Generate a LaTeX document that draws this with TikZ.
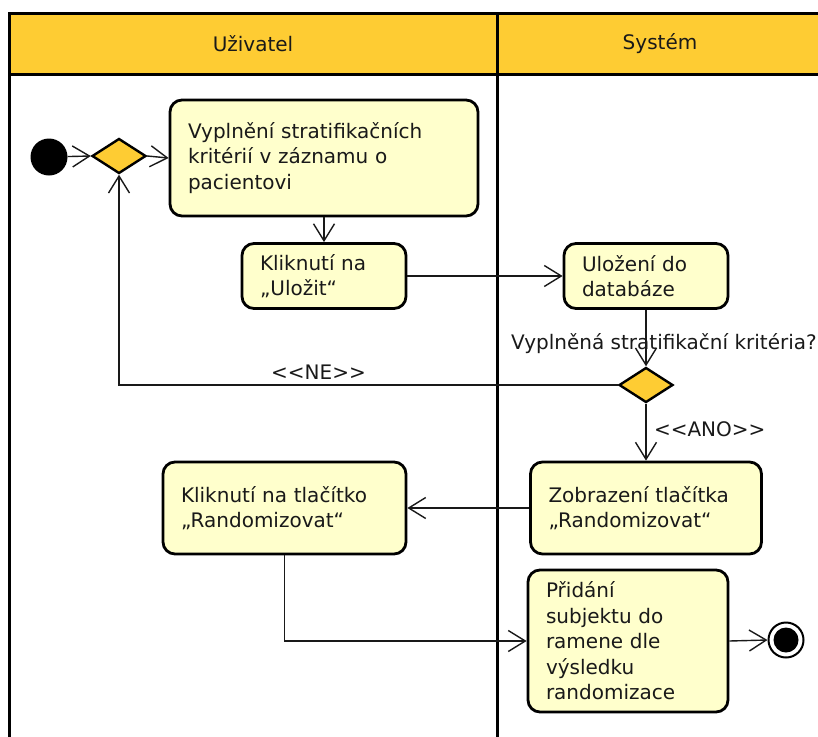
\documentclass[tikz,border=0pt]{standalone}
\usepackage{fontspec}
\setmainfont{DejaVu Sans}
\usetikzlibrary{arrows.meta,shapes.geometric}
\definecolor{lanehead}{RGB}{254,204,51}
\definecolor{actfill}{RGB}{255,255,204}
\definecolor{ink}{RGB}{25,25,25}
\begin{document}
\begin{tikzpicture}[x=1pt,y=-1pt,
  every node/.style={font=\fontsize{20}{25.5}\selectfont, text=ink},
  lane/.style={line width=3pt, draw=black},
  action/.style 2 args={draw=black, line width=2.8pt, rounded corners=12pt,
    fill=actfill, align=left, inner xsep=18pt, inner ysep=0pt,
    text width=#1, minimum height=#2},
  decision/.style={diamond, draw=black, line width=2.4pt, fill=lanehead,
    inner sep=0pt, minimum width=54pt, minimum height=35pt},
  conn/.style={draw=ink, line width=1.4pt,
    -{Straight Barb[length=17pt,width=21pt,line width=1.4pt]}}
]
\useasboundingbox (0,0) rectangle (818,736);
\clip (0,0) rectangle (818,736);

% swimlane frame and headers
\fill[lanehead] (9,13) rectangle (840,74);
\draw[lane] (9,760) -- (9,13) -- (840,13);
\draw[lane] (9,74) -- (840,74);
\draw[lane] (497,13) -- (497,760);
\node (huser) at (253,44) {Uživatel};
\node (hsys) at (660,44) {Systém};

% start, decisions, end
\node[circle, fill=black, inner sep=0pt, minimum size=37pt] (start) at (49,157) {};
\node[decision] (d1) at (119,156) {};
\node[decision] (d2) at (646,385) {};
\node[circle, draw=black, line width=2pt, fill=white, inner sep=0pt, minimum size=35pt] (stop) at (786,640) {};
\node[circle, fill=black, inner sep=0pt, minimum size=25pt] (stopdot) at (stop.center) {};

% actions
\node[action={272pt}{116pt}] (a1) at (324,158)
  {Vyplnění stratifikačních\\kritérií v záznamu o\\pacientovi};
\node[action={128pt}{65pt}] (a2) at (324,276)
  {Kliknutí na\\„Uložit“};
\node[action={128pt}{65pt}] (a3) at (646,276)
  {Uložení do\\databáze};
\node[action={195pt}{92pt}] (a4) at (646,508)
  {Zobrazení tlačítka\\„Randomizovat“};
\node[action={207pt}{92pt}] (a5) at (284.5,508)
  {Kliknutí na tlačítko\\„Randomizovat“};
\node[action={164pt}{142pt}] (a6) at (628,641)
  {Přidání\\subjektu do\\ramene dle\\výsledku\\randomizace};

% guard text
\node[anchor=west, inner sep=0pt] (guard) at (511,344) {Vyplněná stratifikační kritéria?};

% flows
\draw[conn] (start) -- (d1.west);
\draw[conn] (d1.east) -- (a1.west);
\draw[conn] (a1.south) -- (a2.north);
\draw[conn] (a2.east) -- (a3.west);
\draw[conn] (a3.south) -- (d2.north);
\draw[conn] (d2.west) -- node[above=1pt, pos=0.6] (ne) {<{}<NE>{}>} (d2.west -| d1.south) -- (d1.south);
\draw[conn] (d2.south) -- node[right=4pt, pos=0.45] (ano) {<{}<ANO>{}>} (a4.north);
\draw[conn] (a4.west) -- (a5.east);
\draw[conn] (a5.south) |- (a6.west);
\draw[conn] (a6.east) -- (stop.west);
\end{tikzpicture}
\end{document}
